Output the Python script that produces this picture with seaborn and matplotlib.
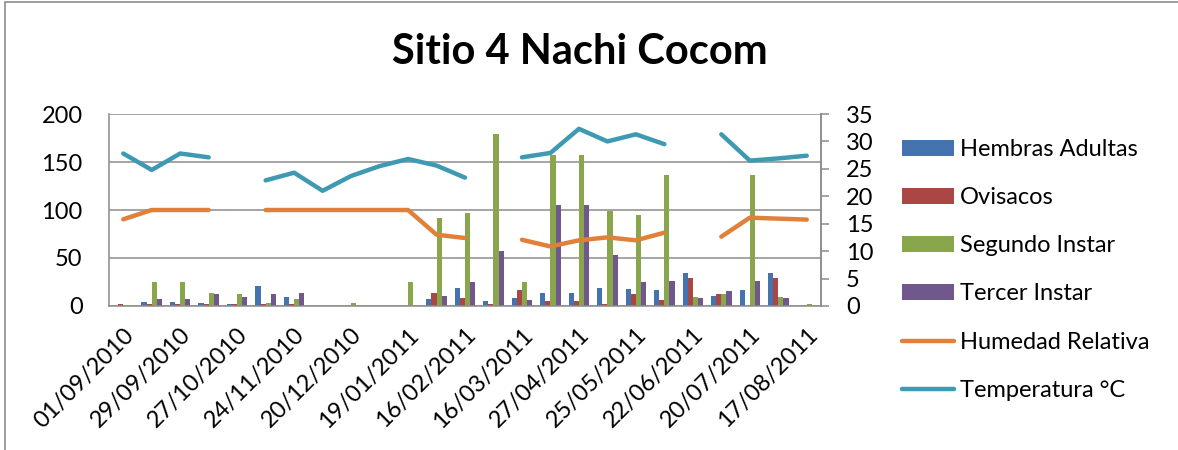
import numpy as np
import pandas as pd
import matplotlib
matplotlib.use("Agg")
import matplotlib.pyplot as plt
import seaborn as sns
from matplotlib.patches import Patch, Rectangle
from matplotlib.lines import Line2D

fechas = ["01/09/2010", "15/09/2010", "29/09/2010", "13/10/2010", "27/10/2010",
          "10/11/2010", "24/11/2010", "08/12/2010", "20/12/2010", "05/01/2011",
          "19/01/2011", "02/02/2011", "16/02/2011", "02/03/2011", "16/03/2011",
          "06/04/2011", "27/04/2011", "11/05/2011", "25/05/2011", "08/06/2011",
          "22/06/2011", "06/07/2011", "20/07/2011", "03/08/2011", "17/08/2011"]

hembras = [0, 4, 4, 3, 2, 20.5, 9, 0, 0, 0, 0.5, 7.5, 18.5, 5.5, 8.7, 13.5, 13.5,
           18.4, 17.4, 16.3, 34.4, 10.4, 16.3, 34.4, 0]
ovisacos = [2, 2, 2, 2, 2, 2, 2, 0, 0, 0, 0, 13.5, 8.7, 1.7, 16.3, 5.5, 5.5,
            1.7, 12.8, 6.6, 29.5, 12.8, 0, 29.5, 0]
segundo = [1.5, 25, 25, 13.5, 12, 3, 7, 0, 3, 0, 25, 92, 96.5, 179, 25.3, 157.6,
           157.6, 99, 94.4, 136.5, 9.4, 12.8, 136.5, 9.4, 1.7]
tercer = [0, 7, 7, 12, 9, 13, 13.5, 0, 0, 0, 0, 10.4, 25.3, 57.6, 6.6, 105.6,
          105.6, 52.8, 25.3, 26.4, 8.3, 15.3, 26.4, 8.3, 0]
humedad = [90.3, 100, 100, 100, np.nan, 100, 100, 100, 100, 100, 100, 74.3, 70.8,
           np.nan, 69, 62, 68.4, 71.5, 68.4, 76.4, np.nan, 72.2, 92, 91, 90]
temperatura = [27.8, 24.8, 27.8, 27.1, np.nan, 22.9, 24.3, 21.0, 23.7, 25.5, 26.8,
               25.6, 23.4, np.nan, 27.1, 27.9, 32.3, 30.0, 31.3, 29.5, np.nan,
               31.3, 26.5, 26.9, 27.4]

series_barras = ["Hembras Adultas", "Ovisacos", "Segundo Instar", "Tercer Instar"]
colores_barras = ["#4473B0", "#AA4644", "#8AA64C", "#70588C"]
color_hum = "#E0803A"
color_temp = "#3E9AB2"

df = pd.DataFrame({
    "Fecha": fechas * 4,
    "Serie": np.repeat(series_barras, len(fechas)),
    "Valor": hembras + ovisacos + segundo + tercer,
})

sns.set_theme(style="white")
plt.rcParams["font.family"] = ["Lato", "DejaVu Sans"]
plt.rcParams["text.color"] = "black"
plt.rcParams["xtick.color"] = "black"
plt.rcParams["ytick.color"] = "black"

FS = 17

fig = plt.figure(figsize=(11.78, 4.5), dpi=100)
ax = fig.add_axes([109 / 1178, 1 - 306 / 450, (821 - 109) / 1178, (306 - 114) / 450])

sns.barplot(data=df, x="Fecha", y="Valor", hue="Serie", order=fechas,
            hue_order=series_barras, palette=colores_barras, width=0.72,
            saturation=1, errorbar=None, ax=ax, legend=False, linewidth=0)

x = np.arange(len(fechas))
ax.plot(x, humedad, color=color_hum, lw=3.2, solid_capstyle="round", zorder=5)

ax.set_ylim(0, 200)
ax.set_xlim(-0.5, len(fechas) - 0.5)
ax.set_yticks([0, 50, 100, 150, 200])
ax.yaxis.grid(True, color="#8C8C8C", lw=1.1)
ax.set_axisbelow(True)
ax.set_xlabel("")
ax.set_ylabel("")
ax.spines["top"].set_visible(False)
for s in ["left", "bottom", "right"]:
    ax.spines[s].set_color("#8C8C8C")
    ax.spines[s].set_linewidth(1.1)
ax.tick_params(axis="y", length=0, pad=19, labelsize=FS, labelcolor="black")
ax.set_xticks(x[::2])
ax.set_xticklabels(fechas[::2], rotation=45, ha="right", rotation_mode="anchor",
                   fontsize=FS, color="black")
ax.tick_params(axis="x", length=0, pad=13)

ax2 = ax.twinx()
ax2.plot(x, temperatura, color=color_temp, lw=3.2, solid_capstyle="round", zorder=5)
ax2.set_ylim(0, 35)
ax2.set_yticks(range(0, 36, 5))
ax2.tick_params(axis="y", direction="out", length=6, width=1.1, color="#8C8C8C",
                pad=12, labelsize=FS, labelcolor="black")
for s in ["top", "left", "bottom"]:
    ax2.spines[s].set_visible(False)
ax2.spines["right"].set_color("#8C8C8C")
ax2.spines["right"].set_linewidth(1.1)
ax2.grid(False)

fig.text(580 / 1178, 1 - 52 / 450, "Sitio 4 Nachi Cocom", ha="center", va="center",
         fontsize=30, fontweight="bold", color="black")

handles = [Patch(facecolor=c, edgecolor="none") for c in colores_barras]
handles += [Line2D([], [], color=color_hum, lw=3.2, solid_capstyle="round"),
            Line2D([], [], color=color_temp, lw=3.2, solid_capstyle="round")]
labels = series_barras + ["Humedad Relativa", "Temperatura °C"]
fig.legend(handles, labels, loc="upper left", bbox_to_anchor=(902 / 1178, 1 - 139 / 450),
           frameon=False, fontsize=FS, handlelength=2.2, handleheight=0.65,
           handletextpad=0.25, labelspacing=1.15, borderpad=0, borderaxespad=0,
           labelcolor="black")

fig.patches.append(Rectangle((5 / 1178, -0.1), 1.2, 1 - 2 / 450 + 0.1,
                             transform=fig.transFigure, fill=False,
                             edgecolor="#8C8C8C", lw=1.2))

fig.savefig("out.png", dpi=100)
